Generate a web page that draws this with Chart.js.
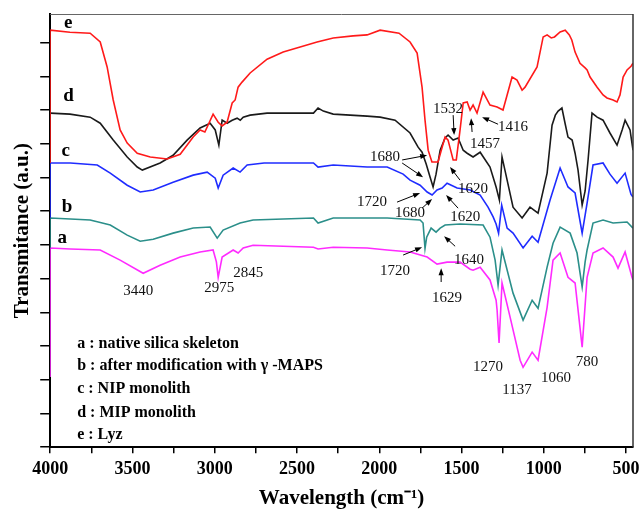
<!DOCTYPE html>
<html>
<head>
<meta charset="utf-8">
<script src="https://cdn.jsdelivr.net/npm/chart.js@4.4.1/dist/chart.umd.min.js"></script>
<style>
  body { margin: 0; background: #fff; }
  canvas { display: block; }
</style>
</head>
<body>
<canvas id="chart_elem" width="642" height="511"></canvas>
<script>
// FTIR spectra, wavenumber (cm-1) vs transmitance (a.u., offset curves)

// e : Lyz
const wnE = [4000, 4000, 3880, 3757, 3696, 3654, 3617, 3575, 3532, 3471, 3392, 3289, 3210, 3131, 3089, 3060, 3010, 2979, 2955, 2925,
  2894, 2876, 2858, 2834, 2785, 2682, 2584, 2481, 2378, 2280, 2159, 2074, 1995, 1880, 1813, 1770, 1740, 1722, 1703, 1680,
  1643, 1618, 1600, 1582, 1551, 1532, 1509, 1490, 1466, 1448, 1430, 1406, 1369, 1327, 1284, 1248, 1193, 1163, 1132, 1114,
  1041, 1004, 980, 955, 935, 901, 870, 845, 830, 810, 780, 749, 737, 719, 676, 640, 616, 579, 555, 537, 518, 494, 470, 458];
const tE = [8.43, 12.37, 12.31, 12.28, 12.02, 11.28, 10.30, 9.41, 9.02, 8.72, 8.61, 8.55, 8.69, 9.20, 9.41, 9.35, 9.88, 9.64, 9.53, 9.64,
  10.21, 10.30, 10.68, 10.83, 11.10, 11.51, 11.72, 11.87, 12.02, 12.14, 12.20, 12.23, 12.37, 12.28, 12.02, 11.69, 10.68, 9.70, 8.81, 8.46,
  8.46, 8.90, 9.20, 9.11, 8.52, 8.52, 9.41, 10.21, 10.24, 10.00, 10.15, 9.91, 10.53, 10.15, 10.09, 10.00, 10.98, 10.89, 10.59, 10.68,
  11.28, 12.17, 12.23, 12.14, 12.17, 12.32, 12.37, 12.23, 12.08, 11.72, 11.39, 11.25, 11.19, 10.98, 10.68, 10.45, 10.36, 10.30, 10.24, 10.45, 10.98, 11.19, 11.30, 11.39];

// d : MIP monolith
const wnD = [4000, 3880, 3757, 3696, 3617, 3532, 3471, 3440, 3332, 3253, 3168, 3089, 3028, 2997, 2975, 2955, 2925, 2894,
  2864, 2845, 2827, 2785, 2682, 2400, 2372, 2340, 2280, 2074, 1995, 1904, 1813, 1764, 1740, 1715, 1691, 1673, 1655, 1630,
  1600, 1582, 1551, 1521, 1490, 1466, 1430, 1387, 1327, 1290, 1270, 1254, 1223, 1187, 1132, 1084, 1035, 980, 950, 930,
  913, 890, 871, 853, 828, 810, 792, 767, 749, 731, 707, 676, 640, 598, 555, 524, 506, 476, 458];
const tD = [9.91, 9.88, 9.79, 9.61, 9.11, 8.61, 8.31, 8.22, 8.43, 8.66, 9.11, 9.47, 9.61, 9.41, 8.96, 9.70, 9.61, 9.70,
  9.76, 9.70, 9.79, 9.85, 9.91, 9.91, 10.06, 9.97, 9.88, 9.82, 9.79, 9.70, 9.32, 8.90, 8.75, 8.40, 8.01, 7.72, 8.10, 8.81,
  9.17, 9.26, 9.11, 9.17, 8.81, 8.72, 8.61, 8.75, 8.31, 7.72, 7.33, 8.61, 7.92, 7.12, 6.80, 7.12, 6.94, 8.13, 9.55, 9.85,
  9.97, 10.06, 9.61, 9.20, 9.11, 8.72, 8.22, 7.18, 7.60, 8.52, 9.91, 9.79, 9.70, 9.32, 8.96, 9.41, 9.70, 9.41, 8.81];

// c : NIP monolith
const wnC = [4000, 4000, 3878, 3714, 3635, 3532, 3453, 3374, 3253, 3131, 3046, 2997, 2979, 2949, 2888, 2846, 2803, 2700, 2400, 2372,
  2280, 2074, 1952, 1855, 1813, 1752, 1709, 1679, 1649, 1618, 1588, 1527, 1448, 1387, 1339, 1308, 1290, 1275, 1256, 1223,
  1187, 1126, 1071, 1035, 962, 901, 853, 810, 767, 737, 701, 640, 598, 555, 506, 470, 458];
const tC = [6.80, 8.43, 8.43, 8.37, 8.13, 7.77, 7.57, 7.63, 7.86, 8.07, 8.16, 7.98, 7.69, 8.07, 8.28, 8.16, 8.37, 8.43, 8.43, 8.31,
  8.37, 8.31, 8.31, 8.10, 7.92, 7.77, 7.57, 7.48, 7.63, 7.69, 7.83, 7.69, 7.63, 7.48, 7.12, 6.83, 6.62, 6.35, 7.18, 6.50,
  6.35, 5.91, 6.26, 6.08, 7.33, 8.28, 7.72, 7.54, 6.35, 7.24, 8.37, 8.43, 8.10, 7.83, 8.13, 7.50, 7.42];

// b : after modification with gamma-MAPS
const wnB = [4000, 4000, 3878, 3757, 3635, 3532, 3453, 3374, 3253, 3131, 3028, 2985, 2949, 2846, 2767, 2400, 2372, 2280, 1952, 1752,
  1734, 1722, 1712, 1685, 1655, 1630, 1600, 1509, 1369, 1327, 1296, 1278, 1254, 1187, 1126, 1071, 1035, 980, 944, 901,
  840, 798, 767, 749, 737, 701, 640, 579, 494, 458];
const tB = [5.91, 6.80, 6.77, 6.74, 6.59, 6.29, 6.11, 6.17, 6.35, 6.50, 6.53, 6.20, 6.44, 6.65, 6.74, 6.80, 6.65, 6.80, 6.80, 6.74,
  6.65, 5.90, 6.23, 6.50, 6.38, 6.50, 6.59, 6.62, 6.59, 6.23, 5.55, 4.81, 5.85, 4.57, 3.77, 4.36, 4.12, 5.34, 6.05, 6.53,
  6.35, 5.76, 4.75, 5.50, 5.85, 6.65, 6.74, 6.65, 6.68, 6.50];

// a : native silica skeleton
const wnA = [4000, 4000, 3878, 3696, 3575, 3435, 3332, 3210, 3089, 3010, 2990, 2979, 2955, 2888, 2858, 2827, 2767, 2400, 2372, 2280,
  2074, 1952, 1813, 1709, 1649, 1588, 1509, 1448, 1430, 1387, 1327, 1290, 1284, 1272, 1254, 1205, 1144, 1126, 1071, 1035,
  980, 944, 901, 853, 810, 767, 737, 701, 640, 579, 549, 506, 464, 458];
const tA = [2.08, 5.91, 5.88, 5.85, 5.55, 5.16, 5.40, 5.64, 5.79, 5.85, 5.50, 5.04, 5.64, 5.85, 5.76, 5.91, 5.99, 5.93, 5.88, 5.93,
  5.91, 5.85, 5.79, 5.64, 5.43, 5.49, 5.49, 5.28, 5.25, 5.34, 4.96, 4.36, 4.07, 3.09, 4.87, 3.86, 2.58, 2.37, 2.82, 2.58,
  4.15, 5.55, 5.76, 5.04, 4.87, 2.97, 5.04, 5.76, 5.91, 5.64, 5.31, 5.79, 5.04, 4.96];

// x axis tick positions (labels only on the multiples of 500)
const xTicks = [500, 750, 1000, 1250, 1500, 1750, 2000, 2250, 2500, 2750, 3000, 3250, 3500, 3750, 4000];

// curve letters next to the left axis
const curveTags = ['e', 'd', 'c', 'b', 'a'];
const curveTagWn = [3891, 3889, 3905, 3897, 3927];
const curveTagT = [12.58, 10.42, 8.78, 7.12, 6.20];

// legend lines inside the plot
const legendLines = ['a : native silica skeleton', 'b : after modification with \u03B3 -MAPS', 'c : NIP monolith', 'd : MIP monolith', 'e : Lyz'];
const legendT = [3.06, 2.40, 1.72, 1.01, 0.36];
const legendWn = 3836;

// band annotations
const peakText = ['3440', '2975', '2845', '1720', '1629', '1640', '1720', '1680', '1620', '1680', '1620', '1532', '1457', '1416', '1270', '1137', '1060', '780'];
const peakWn = [3465, 2973, 2797, 1904, 1588, 1454, 2044, 1813, 1478, 1965, 1430, 1582, 1357, 1187, 1339, 1163, 926, 737];
const peakT = [4.63, 4.72, 5.16, 5.22, 4.42, 5.55, 7.27, 6.94, 6.82, 8.61, 7.66, 10.03, 8.99, 9.50, 2.37, 1.69, 2.05, 2.52];

// arrows: tail (wn, t) -> head (wn, t)
const arrowFromWn = [1855, 1539, 1624, 1892, 1740, 1521, 1861, 1861, 1509, 1551, 1436, 1278];
const arrowFromT = [5.70, 5.96, 4.90, 7.27, 7.09, 7.09, 8.52, 8.43, 7.92, 9.85, 9.35, 9.58];
const arrowToWn = [1740, 1606, 1624, 1752, 1679, 1594, 1709, 1734, 1570, 1545, 1442, 1375];
const arrowToT = [5.93, 6.26, 5.31, 7.54, 7.36, 7.48, 8.66, 8.01, 8.31, 9.26, 9.76, 9.79];

const serif = "'Liberation Serif', 'Times New Roman', serif";

const toPoints = (wn, t) => wn.map((w, i) => ({x: w, y: t[i]}));

const drawArrow = (ctx, x1, y1, x2, y2) => {
  const ang = Math.atan2(y2 - y1, x2 - x1);
  const len = 7, half = 2.6;
  ctx.beginPath();
  ctx.moveTo(x1, y1);
  ctx.lineTo(x2 - Math.cos(ang) * len * 0.8, y2 - Math.sin(ang) * len * 0.8);
  ctx.stroke();
  ctx.beginPath();
  ctx.moveTo(x2, y2);
  ctx.lineTo(x2 - Math.cos(ang) * len - Math.sin(ang) * half, y2 - Math.sin(ang) * len + Math.cos(ang) * half);
  ctx.lineTo(x2 - Math.cos(ang) * len + Math.sin(ang) * half, y2 - Math.sin(ang) * len - Math.cos(ang) * half);
  ctx.closePath();
  ctx.fill();
};

const overlay = {
  id: 'overlay',
  afterDraw(chart) {
    const {ctx, chartArea: a, scales: {x, y}} = chart;
    ctx.save();
    // top and right frame lines
    ctx.strokeStyle = '#666';
    ctx.lineWidth = 1;
    ctx.beginPath();
    ctx.moveTo(a.left, a.top + 0.5);
    ctx.lineTo(a.right, a.top + 0.5);
    ctx.stroke();
    ctx.strokeStyle = '#333';
    ctx.lineWidth = 1.5;
    ctx.beginPath();
    ctx.moveTo(a.right, a.top);
    ctx.lineTo(a.right, a.bottom);
    ctx.stroke();

    ctx.fillStyle = '#000';
    ctx.textBaseline = 'middle';

    // curve letters
    ctx.textAlign = 'center';
    ctx.font = 'bold 19px ' + serif;
    curveTags.forEach((s, i) => {
      ctx.fillText(s, x.getPixelForValue(curveTagWn[i]), y.getPixelForValue(curveTagT[i]));
    });

    // legend text
    ctx.textAlign = 'left';
    ctx.font = 'bold 16px ' + serif;
    legendLines.forEach((s, i) => {
      ctx.fillText(s, x.getPixelForValue(legendWn), y.getPixelForValue(legendT[i]));
    });

    // band numbers
    ctx.textAlign = 'center';
    ctx.font = '15px ' + serif;
    ctx.fillStyle = '#111';
    peakText.forEach((s, i) => {
      ctx.fillText(s, x.getPixelForValue(peakWn[i]), y.getPixelForValue(peakT[i]));
    });

    // arrows
    ctx.strokeStyle = '#000';
    ctx.fillStyle = '#000';
    ctx.lineWidth = 1;
    arrowFromWn.forEach((w, i) => {
      drawArrow(ctx,
        x.getPixelForValue(w), y.getPixelForValue(arrowFromT[i]),
        x.getPixelForValue(arrowToWn[i]), y.getPixelForValue(arrowToT[i]));
    });
    ctx.restore();
  }
};

const lineStyle = (label, pts, color) => ({
  label,
  data: pts,
  borderColor: color,
  borderWidth: 1.6,
  pointRadius: 0,
  tension: 0,
  fill: false
});

const data = {
  datasets: [
    lineStyle('e', toPoints(wnE, tE), '#ff1a1a'),
    lineStyle('d', toPoints(wnD, tD), '#1a1a1a'),
    lineStyle('c', toPoints(wnC, tC), '#1f2cff'),
    lineStyle('b', toPoints(wnB, tB), '#2b8f8a'),
    lineStyle('a', toPoints(wnA, tA), '#ff2bff')
  ]
};

const config = {
  type: 'line',
  data,
  options: {
    responsive: false,
    animation: false,
    layout: {padding: {top: 14, right: 9, left: 0, bottom: 0}},
    plugins: {legend: {display: false}, tooltip: {enabled: false}},
    scales: {
      x: {
        type: 'linear',
        reverse: true,
        min: 458,
        max: 4000,
        afterBuildTicks: (scale) => { scale.ticks = xTicks.map((v) => ({value: v})); },
        afterFit: (scale) => { scale.paddingLeft = 0; scale.paddingRight = 0; },
        border: {display: true, color: '#000', width: 2},
        grid: {drawOnChartArea: false, drawTicks: true, tickLength: 6, color: '#000', lineWidth: 1.5},
        ticks: {
          autoSkip: false,
          maxRotation: 0,
          padding: 5,
          color: '#000',
          font: {family: serif, size: 18, weight: 'bold'},
          callback: (v) => (Math.round(v) % 500 === 0 ? String(Math.round(v)) : '')
        },
        title: {
          display: true,
          text: 'Wavelength (cm\u207B\u00B9)',
          color: '#000',
          font: {family: serif, size: 21, weight: 'bold'},
          padding: {top: 1, bottom: 0}
        }
      },
      y: {
        type: 'linear',
        min: 0,
        max: 12.85,
        border: {display: true, color: '#000', width: 2},
        grid: {drawOnChartArea: false, drawTicks: true, tickLength: 10, color: '#000', lineWidth: 1.5},
        ticks: {stepSize: 1, includeBounds: false, display: false},
        title: {
          display: true,
          text: 'Transmitance (a.u.)',
          color: '#000',
          font: {family: serif, size: 21, weight: 'bold'},
          padding: {top: 10, bottom: 5}
        }
      }
    }
  },
  plugins: [overlay]
};

const chart = new Chart(document.getElementById('chart_elem').getContext('2d'), config);
</script>
</body>
</html>
